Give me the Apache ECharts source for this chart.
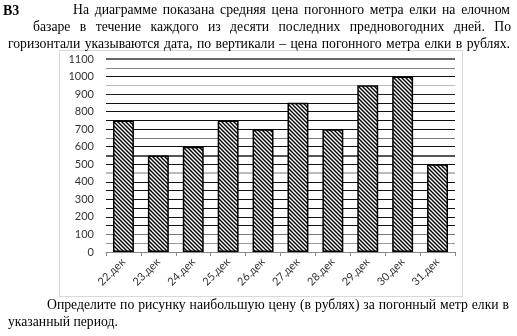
<!DOCTYPE html>
<html>
<head>
<meta charset="utf-8">
<script src="https://cdn.jsdelivr.net/npm/echarts@6/dist/echarts.min.js"></script>
<style>
  html, body { margin: 0; padding: 0; background: #fff; }
  #page { position: relative; width: 517px; height: 336px; overflow: hidden; font-family: "Liberation Serif", "DejaVu Serif", serif; font-size: 13.7px; color: #000; }
  .line { position: absolute; white-space: nowrap; text-align: justify; text-align-last: justify; line-height: 16px; }
  #chart { position: absolute; left: 0; top: 0; width: 517px; height: 336px; }
  #frame { position: absolute; left: 59px; top: 50px; width: 404px; height: 247px; border: 1px solid #d9d9d9; box-sizing: border-box; }
</style>
</head>
<body>
<div id="page">
  <div id="frame"></div>
  <div id="chart"></div>
  <div class="line" style="left:3px;top:3px;width:20px;text-align-last:left;font-size:14px;"><b>B3</b></div>
  <div class="line" style="left:73px;top:2px;width:437px;">На диаграмме показана средняя цена погонного метра елки на елочном</div>
  <div class="line" style="left:33px;top:19px;width:478px;">базаре в течение каждого из десяти последних предновогодних дней. По</div>
  <div class="line" style="left:8px;top:36px;width:502px;">горизонтали указываются дата, по вертикали – цена погонного метра елки в рублях.</div>
  <div class="line" style="left:47px;top:297px;width:462px;">Определите по рисунку наибольшую цену (в рублях) за погонный метр елки в</div>
  <div class="line" style="left:8px;top:314px;text-align-last:left;">указанный период.</div>
</div>
<script>
// Dates along the horizontal axis and the average price per running metre
const days = ['22.дек', '23.дек', '24.дек', '25.дек', '26.дек', '27.дек', '28.дек', '29.дек', '30.дек', '31.дек'];
const prices = [750, 550, 600, 750, 700, 850, 700, 950, 1000, 500];
const priceMin = 0;
const priceMax = 1100;
const priceStep = 50;
const labelStep = 100;

// Diagonal hatching used to fill the bars
function hatch() {
  const c = document.createElement('canvas');
  c.width = 4; c.height = 4;
  const g = c.getContext('2d');
  g.fillStyle = '#fff';
  g.fillRect(0, 0, 4, 4);
  g.strokeStyle = '#000';
  g.lineWidth = 1.4;
  g.beginPath();
  g.moveTo(-1, -1); g.lineTo(5, 5);
  g.moveTo(-1, 3); g.lineTo(1, 5);
  g.moveTo(3, -1); g.lineTo(5, 1);
  g.stroke();
  return c;
}

// Gridline shades, one per 50-step from the bottom up
const gridShades = ['#888', '#999', '#777', '#111', '#111', '#111', '#111', '#111', '#111', '#bbb',
                    '#111', '#555', '#111', '#777', '#111', '#111', '#111', '#111', '#222', '#bbb',
                    '#111', '#888', '#666'];

const chart = echarts.init(document.getElementById('chart'), null, { renderer: 'canvas' });
chart.setOption({
  animation: false,
  grid: { left: 106, right: 62, top: 59, bottom: 84 },
  xAxis: {
    type: 'category',
    data: days,
    axisLine: { lineStyle: { color: '#888', width: 1 } },
    axisTick: { show: true, length: 4, lineStyle: { color: '#888' } },
    axisLabel: { rotate: 45, margin: 8, color: '#333', fontFamily: 'Lato', fontSize: 11 }
  },
  yAxis: {
    type: 'value',
    min: priceMin,
    max: priceMax,
    interval: priceStep,
    axisLine: { show: false },
    axisTick: { show: false },
    axisLabel: {
      margin: 12, color: '#333', fontFamily: 'Lato', fontSize: 11,
      formatter: v => (v % labelStep === 0 ? String(v) : '')
    },
    splitLine: { lineStyle: { color: gridShades, width: 1 } }
  },
  series: [{
    type: 'bar',
    data: prices,
    barCategoryGap: '40%',
    itemStyle: {
      color: { image: hatch(), repeat: 'repeat' },
      borderColor: '#000',
      borderWidth: 1.5
    },
    markLine: {
      silent: true,
      symbol: 'none',
      label: { show: false },
      z: 1,
      data: [
        { yAxis: 1100, lineStyle: { color: '#666', width: 2, type: 'solid' } },
        { yAxis: 550, lineStyle: { color: '#555', width: 2, type: 'solid' } },
        { yAxis: 450, lineStyle: { color: '#bbb', width: 2, type: 'solid' } }
      ]
    }
  }]
});
</script>
</body>
</html>
